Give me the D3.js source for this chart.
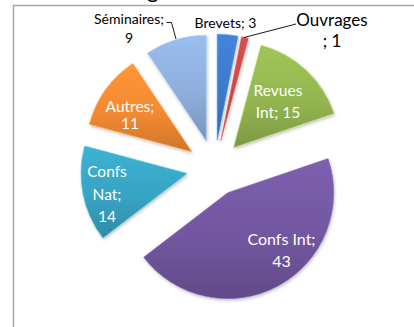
<!DOCTYPE html>
<html>
<head>
<meta charset="utf-8">
<script src="https://cdn.jsdelivr.net/npm/d3@7/dist/d3.min.js"></script>
<style>
  html, body { margin: 0; padding: 0; background: #fff; }
  svg { display: block; }
  text { font-family: Lato, "Open Sans", sans-serif; }
</style>
</head>
<body>
<svg id="chart" width="414" height="327"></svg>
<script>
// Publication counts by type, clockwise from 12 o'clock
const categories = ["Brevets", "Ouvrages", "Revues Int", "Confs Int", "Confs Nat", "Autres", "Séminaires"];
const counts = [3, 1, 15, 43, 14, 11, 9];
const sliceColors = ["#3d79c8", "#c44a46", "#93b550", "#7257a0", "#38a3c2", "#f38a32", "#8eaedb"];
const titleText = "Bilan global";

const svg = d3.select("#chart");

// chart area border (extends past the right and bottom edges)
svg.append("rect")
  .attr("x", 13.5).attr("y", 5.5)
  .attr("width", 500).attr("height", 400)
  .attr("fill", "none").attr("stroke", "#a9a9a9").attr("stroke-width", 1.5);

// title, sitting mostly above the top edge
const title = svg.append("text")
  .attr("y", -2)
  .attr("font-size", 22)
  .attr("fill", "#000")
  .text(titleText);
{
  const gi = titleText.indexOf("g");
  const gx = title.node().getStartPositionOfChar(gi).x;
  title.attr("x", 147 - gx);
}

const defs = svg.append("defs");
const shadow = defs.append("filter").attr("id", "shadow")
  .attr("x", "-20%").attr("y", "-20%").attr("width", "140%").attr("height", "140%");
shadow.append("feDropShadow")
  .attr("dx", 0.8).attr("dy", 1.6).attr("stdDeviation", 1.4)
  .attr("flood-color", "#000").attr("flood-opacity", 0.25);

sliceColors.forEach((c, i) => {
  const g = defs.append("linearGradient").attr("id", "grad" + i)
    .attr("x1", 0).attr("y1", 0).attr("x2", 0).attr("y2", 1);
  g.append("stop").attr("offset", "0%").attr("stop-color", d3.color(c).brighter(0.25));
  g.append("stop").attr("offset", "55%").attr("stop-color", c);
  g.append("stop").attr("offset", "100%").attr("stop-color", d3.color(c).darker(0.45));
});

const cx = 214.5, cy = 168, R = 106, explode = 28;

const pie = d3.pie().sort(null).value(d => d)
  .startAngle(0).endAngle(2 * Math.PI);
const arcs = pie(counts);
const arc = d3.arc().innerRadius(0).outerRadius(R);

const gPie = svg.append("g").attr("transform", `translate(${cx},${cy})`);

gPie.selectAll("path.slice")
  .data(arcs)
  .join("path")
  .attr("class", "slice")
  .attr("transform", d => {
    const mid = (d.startAngle + d.endAngle) / 2;
    return `translate(${explode * Math.sin(mid)},${-explode * Math.cos(mid)})`;
  })
  .attr("d", arc)
  .attr("fill", (d, i) => `url(#grad${i})`)
  .attr("stroke", (d, i) => d3.color(sliceColors[i]).brighter(0.5))
  .attr("stroke-width", 0.8)
  .attr("stroke-opacity", 0.7)
  .attr("filter", "url(#shadow)");

// data label placement: anchor x, baselines, font size, text colour
const labelLayout = {
  "Séminaires": { x: 129, lines: [24, 43], size: 14, color: "#000", split: true },
  "Brevets":    { x: 225.5, lines: [28], size: 14, color: "#000", split: false },
  "Ouvrages":   { x: 332, lines: [26, 47], size: 17, color: "#000", split: true },
  "Revues Int": { x: 278, lines: [96, 118], size: 15.5, color: "#fff", split: "word" },
  "Autres":     { x: 130, lines: [112, 129], size: 15.5, color: "#fff", split: true },
  "Confs Nat":  { x: 107, lines: [177, 200, 222], size: 15.5, color: "#fff", split: "word" },
  "Confs Int":  { x: 281.5, lines: [245, 267], size: 16, color: "#fff", split: true }
};

function labelLines(name, value, split) {
  if (split === false) return [`${name}; ${value}`];
  if (name === "Ouvrages") return [name, `; ${value}`];
  if (split === "word") {
    const w = name.split(" ");
    if (name === "Confs Nat") return [w[0], w[1] + ";", String(value)];
    return [w[0], `${w.slice(1).join(" ")}; ${value}`];
  }
  return [`${name};`, String(value)];
}

const gLabels = svg.append("g");
categories.forEach((name, i) => {
  const L = labelLayout[name];
  const lines = labelLines(name, counts[i], L.split);
  const t = gLabels.append("text")
    .attr("text-anchor", "middle")
    .attr("font-size", L.size)
    .attr("fill", L.color);
  lines.forEach((ln, k) => {
    t.append("tspan").attr("x", L.x).attr("y", L.lines[k]).text(ln);
  });
});

// leader lines for the two labels placed outside their slices
const leader = d3.line();
svg.append("path")
  .attr("d", leader([[166.5, 22.5], [171.5, 22.5], [176, 39]]))
  .attr("fill", "none").attr("stroke", "#000").attr("stroke-width", 0.9);
svg.append("path")
  .attr("d", leader([[296, 24], [244, 37.5]]))
  .attr("fill", "none").attr("stroke", "#000").attr("stroke-width", 0.9);
</script>
</body>
</html>
